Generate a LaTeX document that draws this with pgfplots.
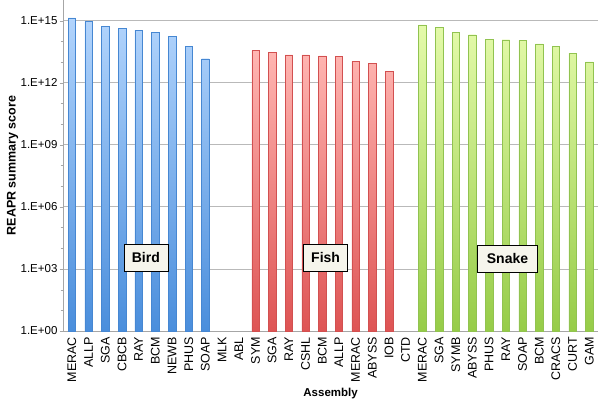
\documentclass[border=0pt]{standalone}
\usepackage{pgfplots}
\pgfplotsset{compat=1.18}
\usepackage{fontspec}
\setmainfont{Liberation Sans}
\definecolor{bluetop}{RGB}{178,212,252}
\definecolor{bluebot}{RGB}{74,142,220}
\definecolor{blueedge}{RGB}{70,135,210}
\definecolor{redtop}{RGB}{255,182,178}
\definecolor{redbot}{RGB}{222,84,84}
\definecolor{rededge}{RGB}{210,80,80}
\definecolor{greentop}{RGB}{228,250,170}
\definecolor{greenbot}{RGB}{150,204,72}
\definecolor{greenedge}{RGB}{145,195,80}
\definecolor{boxfill}{RGB}{246,245,236}
\begin{document}
\begin{tikzpicture}
\begin{axis}[
  scale only axis, width=534pt, height=331pt,
  ymode=log, ymin=1, ymax=1e16, log origin=infty,
  xmin=-0.5, xmax=31.5,
  axis lines*=left,
  axis line style={gray!70},
  ytick={1,1e3,1e6,1e9,1e12,1e15},
  yticklabels={1.E+00,1.E+03,1.E+06,1.E+09,1.E+12,1.E+15},
  minor ytick={1e1,1e2,1e4,1e5,1e7,1e8,1e10,1e11,1e13,1e14},
  ymajorgrids, major grid style={gray!55, line width=0.8pt},
  tick style={gray!70},
  major tick length=4pt, minor tick length=3pt,
  tick align=outside,
  xtick={0,...,31},
  xticklabels={MERAC,ALLP,SGA,CBCB,RAY,BCM,NEWB,PHUS,SOAP,MLK,ABL,SYM,SGA,RAY,CSHL,BCM,ALLP,MERAC,ABYSS,IOB,CTD,MERAC,SGA,SYMB,ABYSS,PHUS,RAY,SOAP,BCM,CRACS,CURT,GAM},
  x tick style={draw=none},
  minor xtick={-0.5,0.5,...,31.5},
  minor x tick style={gray!70},
  xticklabel style={rotate=90, anchor=east, font=\fontsize{12.5}{14}\selectfont, inner sep=2pt},
  yticklabel style={font=\fontsize{11.5}{13}\selectfont, inner sep=2pt},
  /pgf/number format/assume math mode=true,
  xlabel={\textbf{Assembly}},
  ylabel={\textbf{REAPR summary score}},
  xlabel style={font=\fontsize{11.5}{13}\selectfont, at={(axis description cs:0.5,0)}, anchor=center, yshift=-63pt},
  ylabel style={font=\fontsize{12.5}{14}\selectfont, at={(axis description cs:0,0.5)}, anchor=center, yshift=51pt},
  clip=false,
]
\addplot[ybar, bar width=7.5pt, bar shift=0pt, draw=blueedge, top color=bluetop, bottom color=bluebot] coordinates {
(0,1.35e15) (1,9e14) (2,5.3e14) (3,4.4e14) (4,3.5e14) (5,2.8e14) (6,1.8e14) (7,5.7e13) (8,1.45e13)};
\addplot[ybar, bar width=7.5pt, bar shift=0pt, draw=rededge, top color=redtop, bottom color=redbot] coordinates {
(11,3.6e13) (12,3e13) (13,2.2e13) (14,2.2e13) (15,2e13) (16,1.9e13) (17,1.07e13) (18,8.9e12) (19,3.6e12)};
\addplot[ybar, bar width=7.5pt, bar shift=0pt, draw=greenedge, top color=greentop, bottom color=greenbot] coordinates {
(21,6.2e14) (22,4.7e14) (23,2.8e14) (24,2.1e14) (25,1.3e14) (26,1.2e14) (27,1.1e14) (28,7.5e13) (29,5.9e13) (30,2.7e13) (31,1.03e13)};
\node[draw=black, fill=boxfill, font=\fontsize{14}{16}\selectfont\bfseries, minimum width=44pt, minimum height=27pt, inner sep=2pt] at (axis cs:4.43,3400) {Bird};
\node[draw=black, fill=boxfill, font=\fontsize{14}{16}\selectfont\bfseries, minimum width=44pt, minimum height=27pt, inner sep=2pt] at (axis cs:15.2,3400) {Fish};
\node[draw=black, fill=boxfill, font=\fontsize{14}{16}\selectfont\bfseries, minimum width=60pt, minimum height=27pt, inner sep=2pt] at (axis cs:26.1,3100) {Snake};
\end{axis}
\pgfresetboundingbox
\path[use as bounding box] (-63.6pt,-70pt) rectangle (536.4pt,331pt);
\end{tikzpicture}
\end{document}
